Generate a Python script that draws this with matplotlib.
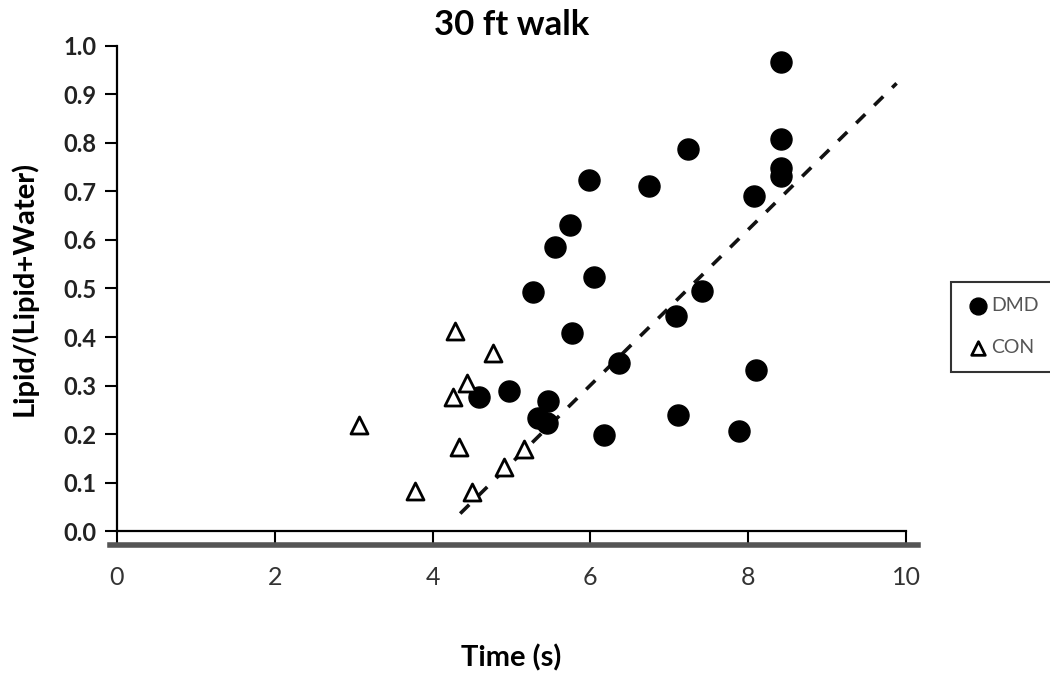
import numpy as np
import matplotlib.pyplot as plt
from matplotlib.lines import Line2D

# data
dmd_x = [8.41, 8.41, 8.41, 8.41, 8.07, 7.24, 6.74, 5.98, 5.74, 5.55, 6.04, 5.27, 7.42,
         7.09, 5.77, 6.36, 8.10, 4.97, 4.59, 5.46, 5.33, 5.45, 6.17, 7.11, 7.88]
dmd_y = [0.966, 0.808, 0.748, 0.731, 0.691, 0.788, 0.711, 0.724, 0.630, 0.585, 0.524, 0.493, 0.495,
         0.443, 0.409, 0.346, 0.332, 0.289, 0.277, 0.269, 0.232, 0.222, 0.199, 0.239, 0.206]

con_x = [4.28, 4.77, 4.43, 4.26, 3.07, 4.34, 3.78, 4.50, 4.91, 5.16]
con_y = [0.413, 0.366, 0.306, 0.277, 0.219, 0.174, 0.083, 0.081, 0.133, 0.170]

trend_x = [4.35, 9.88]
trend_y = [0.036, 0.923]

x_ticks = [0, 2, 4, 6, 8, 10]
y_ticks = np.round(np.arange(0, 1.01, 0.1), 1)

plt.rcParams['font.family'] = ['Lato', 'DejaVu Sans']

fig = plt.figure(figsize=(10.5, 6.83), dpi=100)
ax = fig.add_axes([0.1114, 0.2225, 0.7515, 0.7102])

ax.plot(trend_x, trend_y, linestyle=(0, (3.5, 3.5)), color="#111111", lw=2.6, zorder=3)
ax.scatter(dmd_x, dmd_y, s=230, marker="o", color="black", label="DMD", zorder=4)
ax.scatter(con_x, con_y, s=150, marker="^", facecolor="white", edgecolor="black",
           linewidths=2, label="CON", zorder=5)

ax.set_xlim(0, 10)
ax.set_ylim(0, 1.0)
ax.set_xticks(x_ticks)
ax.set_yticks(y_ticks)
ax.set_yticklabels([f"{v:.1f}" for v in y_ticks], fontsize=17, fontweight="bold", color="#222222")
ax.set_xticklabels([str(v) for v in x_ticks], fontsize=18, color="#333333")
ax.tick_params(axis="x", direction="out", length=9, width=1.5, pad=16)
ax.tick_params(axis="y", direction="out", length=9, width=1.5, pad=6)

for side in ["top", "right"]:
    ax.spines[side].set_visible(False)
for side in ["left", "bottom"]:
    ax.spines[side].set_linewidth(1.6)

ax.set_title("30 ft walk", fontsize=25, fontweight="bold", pad=8)
ax.set_ylabel("Lipid/(Lipid+Water)", fontsize=21, fontweight="bold", labelpad=18)
ax.set_xlabel("Time (s)", fontsize=21, fontweight="bold", labelpad=40)

# gray shadow line under the x axis
fig.add_artist(Line2D([110 / 1050, 918 / 1050], [1 - 545 / 683, 1 - 545 / 683],
                      color="#555555", lw=4, transform=fig.transFigure))

leg = fig.legend(loc="upper left", bbox_to_anchor=(0.896, 0.602), frameon=True,
                 fancybox=False, fontsize=14, handletextpad=0.1, handlelength=1.2,
                 borderpad=0.8, labelspacing=1.3, markerscale=0.8)
leg.get_frame().set_edgecolor("black")
leg.get_frame().set_linewidth(1.5)
for t in leg.get_texts():
    t.set_color("#555555")

plt.savefig("out.png", dpi=100)
